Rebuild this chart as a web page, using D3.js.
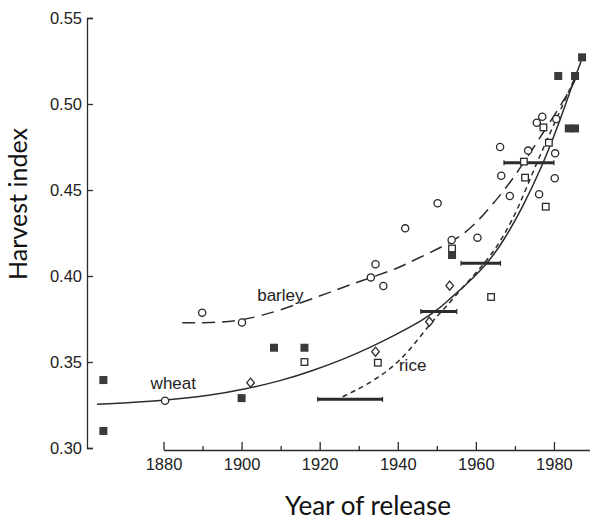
<!DOCTYPE html>
<html><head><meta charset="utf-8">
<script src="https://cdn.jsdelivr.net/npm/d3@7"></script>
<style>body{margin:0;background:#fff}svg{display:block}</style>
</head><body>
<svg id="chart" width="590" height="522"></svg>
<script>
// ---- data ----
const xTicks = [1880, 1900, 1920, 1940, 1960, 1980];
const xMinorTicks = [1890, 1910, 1930, 1950, 1970];
const yTicks = [0.30, 0.35, 0.40, 0.45, 0.50, 0.55];

// fitted curves: [year, harvest index]
const wheatCurve = [[1863,.3254],[1880,.3275],[1892,.3305],[1901,.3343],[1910,.3390],[1918,.3448],[1926,.3515],[1933,.3585],[1940,.3665],[1946,.3738],[1950,.3800],[1953,.3860],[1958,.3960],[1963,.4074],[1967,.4200],[1972,.4400],[1977,.4640],[1981,.4870],[1985,.5130],[1987.3,.5270]];
const barleyCurve = [[1884.8,.3728],[1892,.3728],[1900,.3738],[1910,.3800],[1922.5,.3905],[1931,.3975],[1940.4,.4047],[1943,.4081],[1954.7,.4203],[1959.8,.4300],[1964.2,.4413],[1969.3,.4558],[1973.6,.4705],[1980.5,.4948],[1984.6,.5099],[1985.6,.5150]];
const riceCurve = [[1925.9,.3298],[1932,.3366],[1938,.3455],[1943,.3565],[1948.6,.3733],[1952,.3810],[1957,.3945],[1962.6,.4080],[1967,.4225],[1971,.4400],[1975.3,.4645],[1980,.4880],[1985.1,.5140]];

// symbols
const filledSquares = [[1864.6,.3395],[1864.6,.3099],[1900.0,.3290],[1908.3,.3583],[1916.1,.3583],[1953.9,.4122],[1987.2,.5271],[1981.1,.5163],[1985.4,.5163],[1983.8,.4858],[1985.4,.4858]];
const openSquares = [[1916.1,.3500],[1934.9,.3496],[1953.9,.4160],[1963.9,.3878],[1972.3,.4665],[1972.6,.4572],[1977.9,.4403],[1977.3,.4864],[1978.7,.4775]];
const openCircles = [[1880.4,.3275],[1889.9,.3787],[1900.1,.3730],[1934.3,.4068],[1933.1,.3992],[1936.3,.3942],[1941.9,.4277],[1950.2,.4423],[1953.8,.4209],[1960.4,.4223],[1966.2,.4750],[1966.5,.4583],[1968.7,.4465],[1973.4,.4729],[1975.6,.4891],[1977.0,.4926],[1980.6,.4913],[1980.3,.4713],[1980.2,.4568],[1976.2,.4475]];
const openDiamonds = [[1902.3,.3380],[1934.3,.3560],[1948.1,.3734],[1953.3,.3944]];
// horizontal range bars: [start year, end year, harvest index]
const rangeBars = [[1919.5,1936.1,.3283],[1945.9,1955.1,.3793],[1956.2,1966.3,.4074],[1967.2,1980.0,.4659]];

const curveLabels = ["wheat", "barley", "rice"];
const curveLabelPos = [[1876.7,.3345],[1904,.3855],[1940.3,.3445]];
const xTitle = "Year of release";
const yTitle = "Harvest index";

// ---- drawing ----
const svg = d3.select("#chart");
const ink = "#2b2b2b";
const x = d3.scaleLinear().domain([1880, 1990]).range([163.5, 593]);
const y = d3.scaleLinear().domain([0.30, 0.55]).range([448, 18]);

// x axis (ticks pointing inward / up)
const gx = svg.append("g").attr("transform", "translate(0,450)")
  .call(d3.axisBottom(x).tickValues(xTicks).tickSize(-8).tickSizeOuter(0).tickPadding(8).tickFormat(d3.format("d")));
svg.append("g").attr("transform", "translate(0,450)")
  .call(d3.axisBottom(x).tickValues(xMinorTicks).tickSize(-4).tickFormat(""))
  .call(g => g.select(".domain").remove());

// y axis (ticks pointing inward / right)
const gy = svg.append("g").attr("transform", "translate(87,0)")
  .call(d3.axisLeft(y).tickValues(yTicks).tickSize(-6).tickSizeOuter(-6).tickPadding(5).tickFormat(d3.format(".2f")));

svg.selectAll(".domain, .tick line").attr("stroke", ink).attr("stroke-width", 1.3);
svg.selectAll(".tick text").attr("fill", "#222").attr("font-family", "'Liberation Sans', Arial, sans-serif").attr("font-size", 16.5);

// curves
const line = d3.line().x(d => x(d[0])).y(d => y(d[1])).curve(d3.curveBasis);
svg.append("path").datum(wheatCurve).attr("d", line).attr("fill", "none").attr("stroke", ink).attr("stroke-width", 1.5);
svg.append("path").datum(barleyCurve).attr("d", line).attr("fill", "none").attr("stroke", ink).attr("stroke-width", 1.5).attr("stroke-dasharray", "13,7");
svg.append("path").datum(riceCurve).attr("d", line).attr("fill", "none").attr("stroke", ink).attr("stroke-width", 1.5).attr("stroke-dasharray", "5,4");

// range bars
const bars = svg.append("g");
rangeBars.forEach(b => {
  bars.append("line").attr("x1", x(b[0])).attr("x2", x(b[1])).attr("y1", y(b[2])).attr("y2", y(b[2]))
    .attr("stroke", ink).attr("stroke-width", 3);
  [b[0], b[1]].forEach(e => bars.append("line").attr("x1", x(e)).attr("x2", x(e)).attr("y1", y(b[2]) - 2.5).attr("y2", y(b[2]) + 2.5).attr("stroke", ink).attr("stroke-width", 1.2));
});

// symbols
svg.append("g").selectAll("rect").data(filledSquares).join("rect")
  .attr("x", d => x(d[0]) - 4).attr("y", d => y(d[1]) - 4).attr("width", 8).attr("height", 8)
  .attr("fill", "#3a3a3a");
svg.append("g").selectAll("rect").data(openSquares).join("rect")
  .attr("x", d => x(d[0]) - 3.3).attr("y", d => y(d[1]) - 3.3).attr("width", 6.6).attr("height", 6.6)
  .attr("fill", "#fff").attr("stroke", ink).attr("stroke-width", 1.3);
svg.append("g").selectAll("circle").data(openCircles).join("circle")
  .attr("cx", d => x(d[0])).attr("cy", d => y(d[1])).attr("r", 3.6)
  .attr("fill", "#fff").attr("stroke", ink).attr("stroke-width", 1.3);
svg.append("g").selectAll("path").data(openDiamonds).join("path")
  .attr("d", d => { const cx = x(d[0]), cy = y(d[1]); return `M${cx},${cy-4.5}L${cx+3.8},${cy}L${cx},${cy+4.5}L${cx-3.8},${cy}Z`; })
  .attr("fill", "#fff").attr("stroke", ink).attr("stroke-width", 1.3);

// curve labels
svg.append("g").selectAll("text").data(curveLabels).join("text")
  .attr("x", (d, i) => x(curveLabelPos[i][0])).attr("y", (d, i) => y(curveLabelPos[i][1]))
  .attr("font-family", "'Liberation Sans', Arial, sans-serif").attr("font-size", 17).attr("fill", "#222")
  .text(d => d);

// axis titles (Calibri-like, fitted to the reference width)
function fitText(sel, target) {
  const w = sel.node().getComputedTextLength();
  const fs = parseFloat(sel.attr("font-size"));
  sel.attr("font-size", fs * target / w);
}
const xt = svg.append("text").attr("x", 368).attr("y", 515).attr("text-anchor", "middle")
  .attr("font-family", "Lato, 'Open Sans', sans-serif").attr("font-size", 26).attr("fill", "#111").text(xTitle);
fitText(xt, 166);
const yt = svg.append("text").attr("transform", "translate(27,204) rotate(-90)").attr("text-anchor", "middle")
  .attr("font-family", "Lato, 'Open Sans', sans-serif").attr("font-size", 26).attr("fill", "#111").text(yTitle);
fitText(yt, 152);
</script>
</body></html>
